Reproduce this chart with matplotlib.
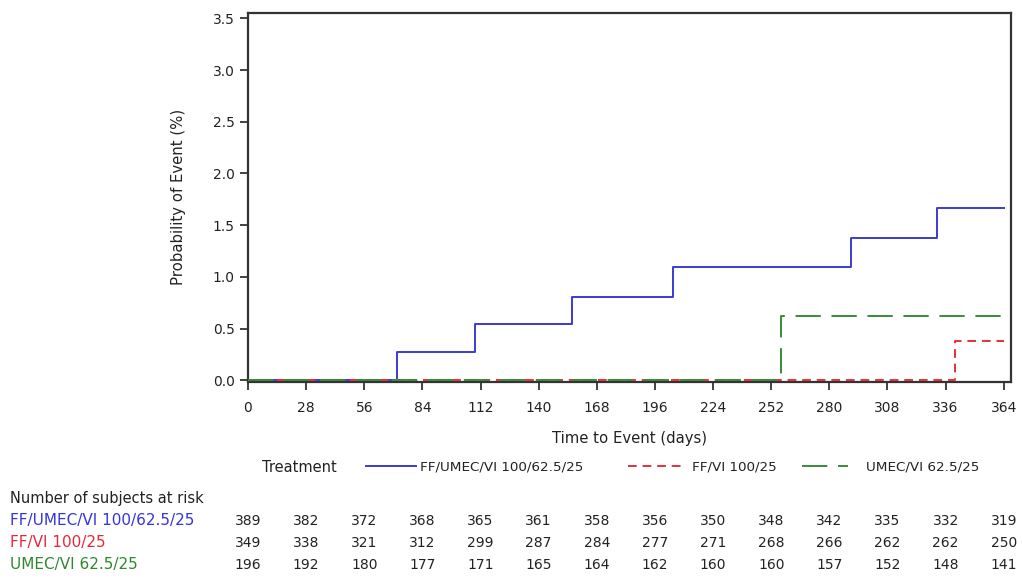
import matplotlib
matplotlib.use("Agg")
import matplotlib.pyplot as plt
from matplotlib.lines import Line2D
import matplotlib.transforms as mtrans

# ---- data ----
ffumec_days = [0, 72, 109.5, 156, 204.5, 290.5, 332, 364]
ffumec_prob = [0.0, 0.27, 0.54, 0.81, 1.10, 1.38, 1.67, 1.67]
ffvi_days = [0, 340.5, 364]
ffvi_prob = [0.0, 0.38, 0.38]
umec_days = [0, 256.5, 364]
umec_prob = [0.0, 0.62, 0.62]

tick_days = [0, 28, 56, 84, 112, 140, 168, 196, 224, 252, 280, 308, 336, 364]
y_ticks = [0.0, 0.5, 1.0, 1.5, 2.0, 2.5, 3.0, 3.5]

group_names = ["FF/UMEC/VI 100/62.5/25", "FF/VI 100/25", "UMEC/VI 62.5/25"]
risk_ffumec = [389, 382, 372, 368, 365, 361, 358, 356, 350, 348, 342, 335, 332, 319]
risk_ffvi = [349, 338, 321, 312, 299, 287, 284, 277, 271, 268, 266, 262, 262, 250]
risk_umec = [196, 192, 180, 177, 171, 165, 164, 162, 160, 160, 157, 152, 148, 141]

c_blue = "#3b3bd8"
c_red = "#e2323a"
c_green = "#3a8a3a"
lbl_blue = "#3434e0"
lbl_red = "#e8283a"
lbl_green = "#2c8a2c"
txt = "#222222"

red_dash = (4.5, 3.0)
green_dash = (13, 5.5)

plt.rcParams['font.family'] = ['DejaVu Sans']
fig = plt.figure(figsize=(10.22, 5.79), dpi=100)
ax = fig.add_axes([248/1022, 1-382/579, (1011-248)/1022, (382-12.7)/579])

lw = 1.4
ax.step(ffumec_days, ffumec_prob, where='post', color=c_blue, lw=lw, zorder=3)
ax.step(ffvi_days, ffvi_prob, where='post', color=c_red, lw=lw, dashes=red_dash, zorder=4)
ax.step(umec_days, umec_prob, where='post', color=c_green, lw=lw, dashes=green_dash, zorder=5)

ax.set_xlim(0, 367.5)
ax.set_ylim(-0.016, 3.554)
ax.set_xticks(tick_days)
ax.set_yticks(y_ticks)
ax.set_yticklabels([f"{v:.1f}" for v in y_ticks])
ax.tick_params(axis='both', labelsize=10, colors=txt, length=6, width=1.2)
ax.tick_params(axis='x', pad=7.5)
ax.tick_params(axis='y', pad=3.5)
for s in ax.spines.values():
    s.set_linewidth(1.6)
    s.set_color('#333333')
ax.set_xlabel("Time to Event (days)", fontsize=10.7, labelpad=12, color=txt)
ax.set_ylabel("Probability of Event (%)", fontsize=10.7, labelpad=19, color=txt)

# ---- legend ----
ly = 1 - 467/579
fig.text(262/1022, ly, "Treatment", fontsize=10.5, va='center', ha='left', color=txt)
leg_specs = [
    (Line2D([], [], color=c_blue, lw=lw), group_names[0], 366, 50, 4),
    (Line2D([], [], color=c_red, lw=lw, dashes=red_dash), group_names[1], 628, 57, 7),
    (Line2D([], [], color=c_green, lw=lw, dashes=green_dash), group_names[2], 802, 46, 18),
]
fs_leg = 9.7
px_per_em = fs_leg * 100 / 72
for h, lab, x0, hl, tp in leg_specs:
    lg = fig.legend([h], [lab], loc='center left', bbox_to_anchor=(x0/1022, ly),
                    frameon=False, fontsize=fs_leg, handlelength=hl/px_per_em,
                    handletextpad=tp/px_per_em, borderpad=0, borderaxespad=0)
    for t in lg.get_texts():
        t.set_color(txt)

# ---- at-risk table ----
fig.text(10/1022, 1-498/579, "Number of subjects at risk", fontsize=10.5, va='center', ha='left', color=txt)
trans = mtrans.blended_transform_factory(ax.transData, fig.transFigure)
rows = [(group_names[0], risk_ffumec, lbl_blue, 521),
        (group_names[1], risk_ffvi, lbl_red, 543),
        (group_names[2], risk_umec, lbl_green, 565)]
for name, vals, col, ypx in rows:
    yf = 1 - ypx/579
    fig.text(10/1022, yf, name, fontsize=11, va='center', ha='left', color=col)
    for d, v in zip(tick_days, vals):
        fig.text(d, yf, str(v), transform=trans, fontsize=10, va='center', ha='center', color=txt)

fig.savefig("out.png", dpi=100)
